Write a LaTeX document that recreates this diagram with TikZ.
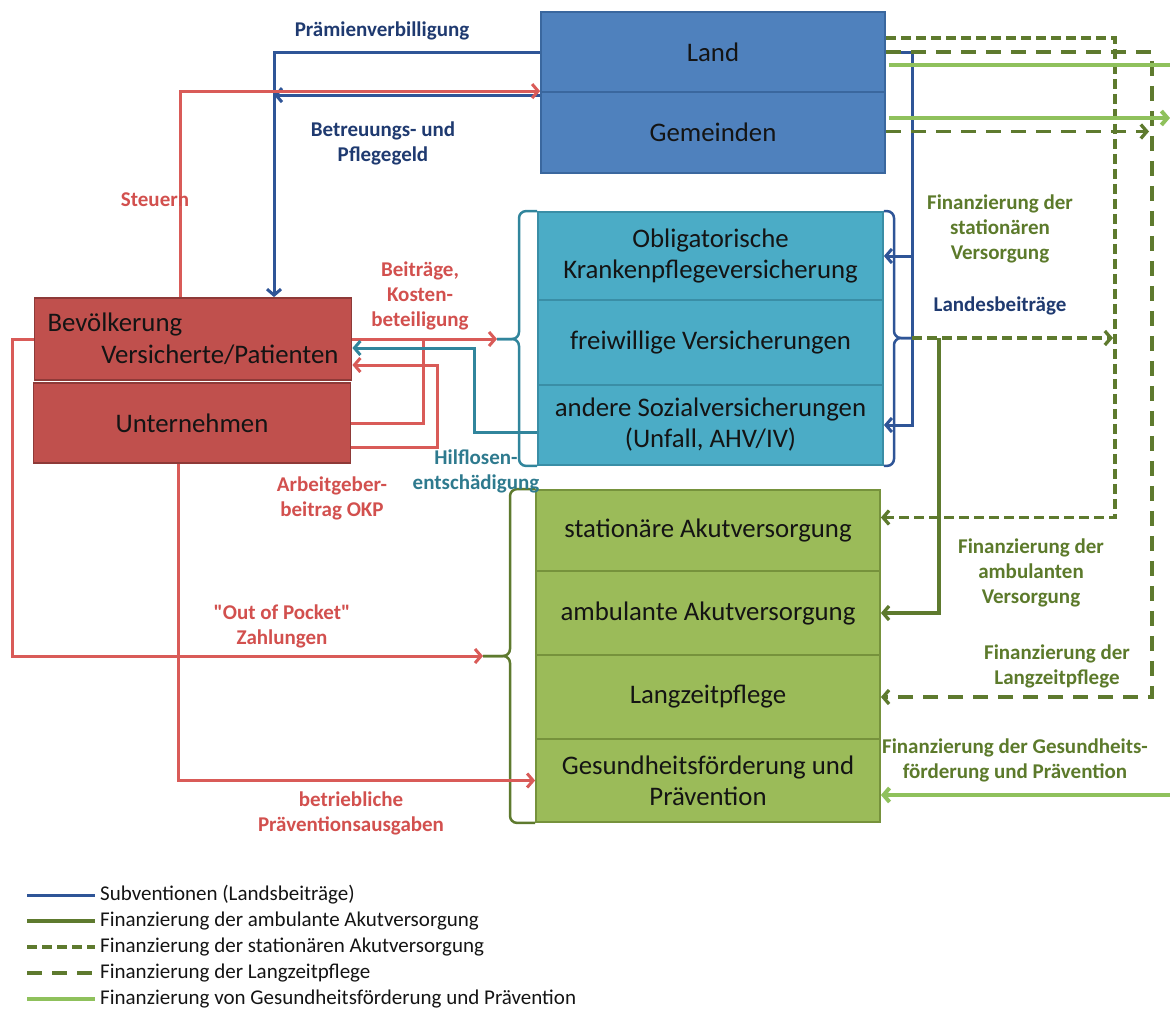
\documentclass[tikz,border=0pt]{standalone}
\usepackage{fontspec}
\setmainfont{Carlito}
\usetikzlibrary{arrows.meta}

\definecolor{landblue}{HTML}{4F81BD}
\definecolor{landedge}{HTML}{3A679E}
\definecolor{versteal}{HTML}{4BACC6}
\definecolor{versedge}{HTML}{3A8EA6}
\definecolor{bevred}{HTML}{C0504D}
\definecolor{bevedge}{HTML}{8E3A38}
\definecolor{leistgreen}{HTML}{9BBB59}
\definecolor{leistedge}{HTML}{76923C}
\definecolor{boxtext}{HTML}{141414}
\definecolor{subvblue}{HTML}{2F5597}
\definecolor{flowred}{HTML}{D95B58}
\definecolor{heteal}{HTML}{31859C}
\definecolor{ambgreen}{HTML}{5E7A2E}
\definecolor{gfgreen}{HTML}{8FC15C}
\definecolor{labblue}{HTML}{1F3A70}
\definecolor{labred}{HTML}{D2504E}
\definecolor{labteal}{HTML}{2E7A8E}
\definecolor{labgreen}{HTML}{5C7A2B}

\newcommand\boxfont{\fontsize{26.8}{31}\selectfont}
\newcommand\labfont{\fontsize{21}{25}\selectfont\bfseries}
\newcommand\legfont{\fontsize{21}{26}\selectfont}

\tikzset{
  arr/.style={-{Straight Barb[length=6pt,width=14pt]}},
  box/.style={draw, line width=1.8pt, align=center, text=boxtext, font=\boxfont, inner sep=0pt},
  landbox/.style={box, fill=landblue, draw=landedge, minimum width=344pt},
  versbox/.style={box, fill=versteal, draw=versedge, minimum width=345pt},
  bevbox/.style={box, fill=bevred, draw=bevedge, minimum width=317pt},
  leistbox/.style={box, fill=leistgreen, draw=leistedge, minimum width=344pt},
  subv/.style={draw=subvblue, line width=3pt},
  redflow/.style={draw=flowred, line width=3pt},
  heflow/.style={draw=heteal, line width=3pt},
  ambflow/.style={draw=ambgreen, line width=3.3pt},
  statflow/.style={ambflow, dash pattern=on 10pt off 5pt},
  langflow/.style={ambflow, dash pattern=on 15pt off 10pt},
  gfflow/.style={draw=gfgreen, line width=4pt},
  brk/.style={rounded corners=7pt},
  lab/.style={font=\labfont, align=center, inner sep=0pt},
  legend/.style={font=\legfont, anchor=west, inner sep=0pt, text=boxtext}
}

\begin{document}
\begin{tikzpicture}[x=1pt,y=-1pt]
\useasboundingbox (0,0) rectangle (1170,1012);

% Finanzierungsquellen
\node[landbox, minimum height=80pt] (land) at (713,52) {Land};
\node[landbox, minimum height=81pt] (gemeinden) at (713,132.5) {Gemeinden};
\node[bevbox, minimum height=82pt, text width=291pt, inner xsep=13pt, align=left,
  font=\fontsize{26.8}{32}\selectfont] (bev) at (193,339) {Bevölkerung\\\hspace*{\fill}Versicherte/Patienten};
\node[bevbox, minimum height=80pt] (unter) at (192,423) {Unternehmen};

% Versicherungen
\node[versbox, minimum height=88pt] (okp) at (710.5,256) {Obligatorische\\Krankenpflegeversicherung};
\node[versbox, minimum height=85pt] (freiw) at (710.5,342.5) {freiwillige Versicherungen};
\node[versbox, minimum height=80pt] (andere) at (710.5,425) {andere Sozialversicherungen\\(Unfall, AHV/IV)};

% Leistungen
\node[leistbox, minimum height=81pt] (stat) at (708,530.5) {stationäre Akutversorgung};
\node[leistbox, minimum height=84pt] (amb) at (708,613) {ambulante Akutversorgung};
\node[leistbox, minimum height=84pt] (lang) at (708,697) {Langzeitpflege};
\node[leistbox, minimum height=83pt] (gesund) at (708,780.5) {Gesundheitsförderung und\\Prävention};

% Spalten und Klammerspitzen
\coordinate (cSt) at (180,0);
\coordinate (cPV) at (274,0);
\coordinate (cOOP) at (12,0);
\coordinate (cBP) at (178,0);
\coordinate (cKB) at (423,0);
\coordinate (cAG) at (437,0);
\coordinate (cHE) at (474,0);
\coordinate (cHeB) at (519,0);
\coordinate (cGrB) at (510,0);
\coordinate (cLbB) at (894,0);
\coordinate (cLB) at (912,0);
\coordinate (cAmb) at (939,0);
\coordinate (cStat) at (1115,0);
\coordinate (cLang) at (1152,0);
\coordinate (rEdge) at (1170,0);
\coordinate (heTip) at (497,339);
\coordinate (grTip) at (483,656);
\coordinate (lbTip) at (912,338);

% Klammern
\draw[heflow, brk, line width=2.5pt] (okp.north west) -| (cHeB |- heTip) -- (heTip);
\draw[heflow, brk, line width=2.5pt] (andere.south west) -| (cHeB |- heTip) -- (heTip);
\draw[ambflow, brk, line width=2.5pt] (stat.north west) -| (cGrB |- grTip) -- (grTip);
\draw[ambflow, brk, line width=2.5pt] (gesund.south west) -| (cGrB |- grTip) -- (grTip);
\draw[subv, brk, line width=2.5pt] (okp.north east) -| (cLbB |- lbTip) -- (lbTip);
\draw[subv, brk, line width=2.5pt] (andere.south east) -| (cLbB |- lbTip) -- (lbTip);

% Subventionen
\draw[subv,arr] (land.west) -| (cPV |- bev.north);
\coordinate (bpg) at ([yshift=-4pt]gemeinden.north west);
\draw[subv,arr] (bpg) -- (bpg -| cPV);
\draw[subv,arr] (land.east) -| (cLB |- andere.east) -- (andere.east);
\draw[subv,arr] (cLB |- okp.east) -- (okp.east);

% Steuern und Beitraege
\draw[redflow,arr] (bev.north -| cSt) |- (gemeinden.north west);
\draw[redflow,arr] (bev.east) -- (bev.east -| heTip);
\draw[redflow] (unter.east) -| (cKB |- bev.east);
\coordinate (agA) at ([yshift=-24pt]unter.east);
\coordinate (agB) at ([yshift=-26pt]bev.east);
\draw[redflow,arr] (agA) -| (cAG |- agB) -- (agB);
\coordinate (heA) at ([yshift=-7pt]andere.west);
\coordinate (heB) at ([yshift=-9pt]bev.east);
\draw[heflow,arr] (heA) -| (cHE |- heB) -- (heB);
\draw[redflow,arr] (bev.west) -| (cOOP |- grTip) -- (grTip);
\draw[redflow,arr] (unter.south -| cBP) |- (gesund.west);

% Finanzierung der Leistungen
\coordinate (statA) at ([yshift=14pt]land.east);
\coordinate (statB) at ([yshift=13pt]stat.east);
\draw[statflow,arr] (statA) -| (cStat |- statB) -- (statB);
\coordinate (statC) at (lbTip -| cStat);
\draw[statflow,arr] (lbTip) -- ([xshift=-2pt]statC);
\draw[ambflow,arr] (lbTip -| cAmb) |- (amb.east);
\draw[langflow,arr] (land.east) -| (cLang |- lang.east) -- (lang.east);
\coordinate (gemA) at ([yshift=1pt]gemeinden.east);
\coordinate (gemB) at (gemA -| cLang);
\draw[langflow,arr] (gemA) -- ([xshift=-3pt]gemB);
\coordinate (gfA) at ([xshift=3pt,yshift=-13pt]land.east);
\coordinate (gfB) at ([xshift=3pt,yshift=14.5pt]gemeinden.east);
\coordinate (gfC) at ([yshift=-14.5pt]gesund.east);
\draw[gfflow] (gfA) -- (gfA -| rEdge);
\draw[gfflow,arr] (gfB) -- (gfB -| rEdge);
\draw[gfflow,arr] (gfC -| rEdge) -- (gfC);

% Beschriftungen
\node[lab, text=labblue] (pv) at (382,31) {Prämienverbilligung};
\node[lab, text=labblue] (bp) at (383,143) {Betreuungs- und\\Pflegegeld};
\node[lab, text=labred] (st) at (155,200) {Steuern};
\node[lab, text=labred] (kb) at (420,296) {Beiträge,\\Kosten-\\beteiligung};
\node[lab, text=labteal] (he) at (476,471) {Hilflosen-\\entschädigung};
\node[lab, text=labred] (ag) at (332,498) {Arbeitgeber-\\beitrag OKP};
\node[lab, text=labred] (oop) at (282,626) {\textquotedbl Out of Pocket\textquotedbl\\Zahlungen};
\node[lab, text=labred] (bpa) at (351,813) {betriebliche\\Präventionsausgaben};
\node[lab, text=labgreen] (fst) at (1000,229) {Finanzierung der\\stationären\\Versorgung};
\node[lab, text=labblue] (lb) at (1000,306) {Landesbeiträge};
\node[lab, text=labgreen] (fam) at (1031,573) {Finanzierung der\\ambulanten\\Versorgung};
\node[lab, text=labgreen] (flz) at (1057,666) {Finanzierung der\\Langzeitpflege};
\node[lab, text=labgreen] (fgf) at (1015,760) {Finanzierung der Gesundheits-\\förderung und Prävention};

% Legende
\node[legend] (leg1) at (100,895) {Subventionen (Landsbeiträge)};
\node[legend] (leg2) at (100,921) {Finanzierung der ambulante Akutversorgung};
\node[legend] (leg3) at (100,947) {Finanzierung der stationären Akutversorgung};
\node[legend] (leg4) at (100,973) {Finanzierung der Langzeitpflege};
\node[legend] (leg5) at (100,999) {Finanzierung von Gesundheitsförderung und Prävention};
\draw[subv] ([xshift=-73pt]leg1.west) -- ([xshift=-5pt]leg1.west);
\draw[ambflow] ([xshift=-73pt]leg2.west) -- ([xshift=-5pt]leg2.west);
\draw[statflow] ([xshift=-73pt]leg3.west) -- ([xshift=-5pt]leg3.west);
\draw[langflow] ([xshift=-73pt]leg4.west) -- ([xshift=-5pt]leg4.west);
\draw[gfflow] ([xshift=-73pt]leg5.west) -- ([xshift=-5pt]leg5.west);
\end{tikzpicture}
\end{document}
